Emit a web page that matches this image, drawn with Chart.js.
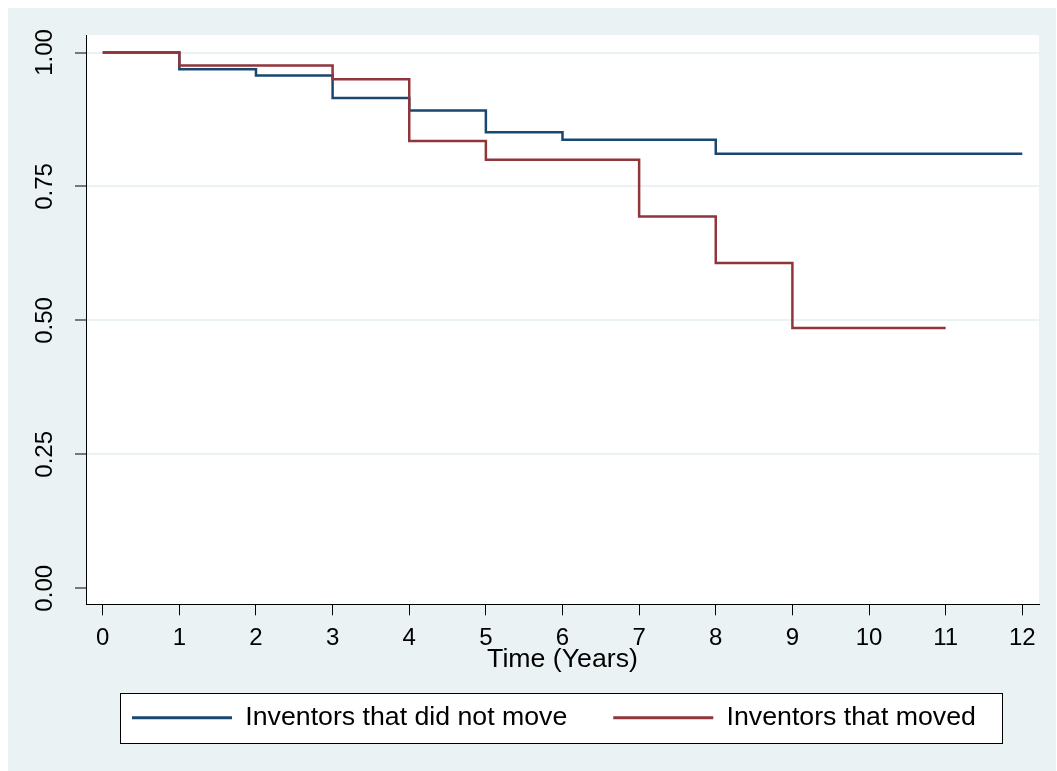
<!DOCTYPE html>
<html>
<head>
<meta charset="utf-8">
<title>Survival estimates</title>
<script src="https://cdn.jsdelivr.net/npm/chart.js@4/dist/chart.umd.min.js"></script>
<style>
  html, body { margin: 0; padding: 0; background: #fff; }
  #chart { display: block; }
</style>
</head>
<body>
<canvas id="chart" width="1057" height="771"></canvas>
<script>
// data (Kaplan-Meier steps)
var stayTimes = [0, 1, 2, 3, 4, 5, 6, 8, 12];
var staySurv = [1.000, 0.969, 0.957, 0.915, 0.892, 0.851, 0.837, 0.811, 0.811];
var moveTimes = [0, 1, 3, 4, 5, 7, 8, 9, 11];
var moveSurv = [1.000, 0.976, 0.950, 0.835, 0.800, 0.694, 0.607, 0.486, 0.486];
var seriesNames = ['Inventors that did not move', 'Inventors that moved'];
var xTicks = [0, 1, 2, 3, 4, 5, 6, 7, 8, 9, 10, 11, 12];
var yTicks = [0, 0.25, 0.5, 0.75, 1];
var xTitle = 'Time (Years)';

(function () {
    var bgColor = '#EAF2F3',
        navy = '#1A476F',
        maroon = '#90353B';

    Chart.defaults.font.family = '"Liberation Sans", Arial, sans-serif';
    Chart.defaults.color = '#000';

    function toPoints(xs, ys) {
        return xs.map(function (x, i) { return { x: x, y: ys[i] }; });
    }

    // stata-like background, white plot region and framed legend
    var backdrop = {
        id: 'backdrop',
        beforeDraw: function (chart) {
            var ctx = chart.ctx, area = chart.chartArea;
            ctx.save();
            ctx.fillStyle = '#fff';
            ctx.fillRect(0, 0, chart.width, chart.height);
            ctx.fillStyle = bgColor;
            ctx.fillRect(8, 8, chart.width - 9, chart.height - 8);
            ctx.fillStyle = '#fff';
            ctx.fillRect(area.left, area.top, area.right - area.left, area.bottom - area.top);

            var hb = chart.legend.legendHitBoxes;
            if (hb && hb.length) {
                var last = hb[hb.length - 1];
                var left = Math.round(hb[0].left - 12) + 0.5;
                var right = Math.round(last.left + last.width + 26) + 0.5;
                var cy = hb[0].top + hb[0].height / 2;
                var top = Math.round(cy - 25) + 0.5;
                ctx.fillStyle = '#fff';
                ctx.fillRect(left, top, right - left, 50);
                ctx.strokeStyle = '#000';
                ctx.lineWidth = 1;
                ctx.strokeRect(left, top, right - left, 50);
            }
            ctx.restore();
        }
    };

    var ctx = document.getElementById('chart').getContext('2d');
    new Chart(ctx, {
        type: 'line',
        data: {
            datasets: [
                {
                    label: seriesNames[0],
                    data: toPoints(stayTimes, staySurv),
                    borderColor: navy,
                    backgroundColor: navy,
                    borderWidth: 2.5,
                    pointRadius: 0,
                    stepped: 'before',
                    fill: false,
                    order: 2
                },
                {
                    label: seriesNames[1],
                    data: toPoints(moveTimes, moveSurv),
                    borderColor: maroon,
                    backgroundColor: maroon,
                    borderWidth: 2.5,
                    pointRadius: 0,
                    stepped: 'before',
                    fill: false,
                    order: 1
                }
            ]
        },
        options: {
            responsive: false,
            animation: false,
            devicePixelRatio: 1,
            layout: { padding: { left: 0, top: 35, right: 18, bottom: 30 } },
            scales: {
                x: {
                    type: 'linear',
                    min: -0.218,
                    max: 12.218,
                    afterBuildTicks: function (scale) {
                        scale.ticks = xTicks.map(function (v) { return { value: v }; });
                    },
                    afterFit: function (scale) { scale.height = 54; },
                    ticks: {
                        font: { size: 24 },
                        color: '#000',
                        padding: 9,
                        maxRotation: 0,
                        autoSkip: false
                    },
                    grid: {
                        drawOnChartArea: false,
                        color: '#000',
                        lineWidth: 1,
                        tickLength: 11
                    },
                    border: { display: true, color: '#000', width: 1 },
                    title: {
                        display: true,
                        text: xTitle,
                        font: { size: 26.7 },
                        color: '#000',
                        padding: { top: 0, bottom: -17.7 }
                    }
                },
                y: {
                    type: 'linear',
                    min: -0.0299,
                    max: 1.0327,
                    afterBuildTicks: function (scale) {
                        scale.ticks = yTicks.map(function (v) { return { value: v }; });
                    },
                    afterFit: function (scale) { scale.width = 86; },
                    ticks: {
                        font: { size: 24 },
                        color: '#000',
                        padding: 6,
                        minRotation: 90,
                        maxRotation: 90,
                        crossAlign: 'center',
                        callback: function (v) { return Number(v).toFixed(2); }
                    },
                    grid: {
                        color: function (c) {
                            return c.tick && c.tick.value === 0 ? 'rgba(0,0,0,0)' : bgColor;
                        },
                        lineWidth: 2,
                        tickColor: '#000',
                        tickWidth: 1,
                        tickLength: 11
                    },
                    border: { display: true, color: '#000', width: 1 }
                }
            },
            plugins: {
                tooltip: { enabled: false },
                legend: {
                    position: 'bottom',
                    align: 'start',
                    fullSize: false,
                    labels: {
                        font: { size: 26.7 },
                        color: '#000',
                        boxWidth: 100,
                        boxHeight: 3,
                        padding: 46,
                        sort: function (a, b) { return a.datasetIndex - b.datasetIndex; },
                        generateLabels: function (chart) {
                            var items = Chart.defaults.plugins.legend.labels.generateLabels(chart);
                            return items.map(function (it) { it.lineWidth = 0; return it; });
                        }
                    }
                }
            }
        },
        plugins: [backdrop]
    });
})();
</script>
</body>
</html>
